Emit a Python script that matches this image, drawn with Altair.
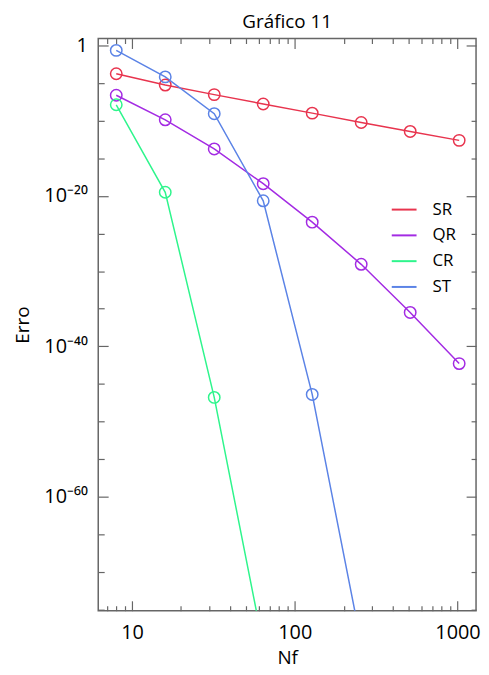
import math
import altair as alt
import pandas as pd

# ---- data ----
nf_sr = [8, 16, 32, 64, 128, 256, 512, 1024]
err_sr = [1.7e-4, 5.4e-6, 2.9e-7, 1.66e-8, 1.0e-9, 5.75e-11, 3.72e-12, 2.4e-13]
nf_qr = [8, 16, 32, 64, 128, 256, 512, 1024]
err_qr = [2.4e-7, 1.29e-10, 1.74e-14, 4.2e-19, 3.2e-24, 7.9e-30, 3.2e-36, 5.0e-43]
nf_cr = [8, 16, 32, 64]
err_cr = [1.3e-8, 3.0e-20, 1.6e-47, 1.6e-80]
nf_st = [8, 16, 32, 64, 128, 256]
err_st = [0.22, 6.6e-5, 8.5e-10, 2.2e-21, 4.0e-47, 3.2e-80]

series = ["SR", "QR", "CR", "ST"]
colors = ["#e8344e", "#a32be3", "#2ef58c", "#5b83e6"]

x_major = [10, 100, 1000]
x_major_labels = ["10", "100", "1000"]
x_minor = [7, 8, 9, 20, 30, 40, 50, 60, 70, 80, 90,
           200, 300, 400, 500, 600, 700, 800, 900]
y_major = [1, 1e-20, 1e-40, 1e-60]
y_major_labels = ["1", "10⁻²⁰", "10⁻⁴⁰", "10⁻⁶⁰"]
y_minor = [1e-5, 1e-10, 1e-15, 1e-25, 1e-30, 1e-35, 1e-45, 1e-50, 1e-55,
           1e-65, 1e-70, 1e-75]

X_DOMAIN = [6.2, 1300]
Y_DOMAIN = [7e-76, 8.3]

rows = []
for name, nfs, errs in [("SR", nf_sr, err_sr), ("QR", nf_qr, err_qr),
                        ("CR", nf_cr, err_cr), ("ST", nf_st, err_st)]:
    for n, e in zip(nfs, errs):
        rows.append({"Nf": n, "Erro": e, "serie": name})
df = pd.DataFrame(rows)

FONT = "Open Sans"
TICK = "#666666"


def label_expr(values, labels):
    parts = []
    for v, lab in zip(values, labels):
        k = round(math.log10(v))
        parts.append(f"round(log(datum.value)/LN10) == {k} ? '{lab}' : ")
    return "".join(parts) + "''"


def xs():
    return alt.Scale(type="log", domain=X_DOMAIN, nice=False)


def ys():
    return alt.Scale(type="log", domain=Y_DOMAIN, nice=False)


def tick_axis(orient, values, size):
    return alt.Axis(orient=orient, values=values, labels=False, title=None,
                    tickSize=size, offset=-size, domain=False, grid=False,
                    tickColor=TICK, tickWidth=1.2)


legend = alt.Legend(orient="none", legendX=295, legendY=159, title=None,
                    symbolType="stroke", symbolSize=625, symbolStrokeWidth=2,
                    labelOffset=15, rowPadding=4, labelFontSize=17,
                    labelFont=FONT, labelColor="black", padding=0)
color = alt.Color("serie:N", scale=alt.Scale(domain=series, range=colors),
                  legend=legend)

x_main = alt.X("Nf:Q", scale=xs(), axis=alt.Axis(
    orient="bottom", values=x_major,
    labelExpr=label_expr(x_major, x_major_labels),
    title="Nf", tickSize=10, offset=-10, domain=False, grid=False,
    labelPadding=12, labelFontSize=20, labelFont=FONT, labelColor="black",
    titleFontSize=19, titleFont=FONT, titleFontWeight="normal",
    titleColor="black", titlePadding=6, tickColor=TICK, tickWidth=1.2,
    labelFlush=False, labelOverlap=False))
y_main = alt.Y("Erro:Q", scale=ys(), axis=alt.Axis(
    orient="left", values=y_major,
    labelExpr=label_expr(y_major, y_major_labels),
    title="Erro", tickSize=10, offset=-10, domain=False, grid=False,
    labelPadding=11, labelFontSize=20, labelFont=FONT, labelColor="black",
    titleFontSize=19, titleFont=FONT, titleFontWeight="normal",
    titleColor="black", titlePadding=12, tickColor=TICK, tickWidth=1.2,
    labelFlush=False, labelOverlap=False))

lines = alt.Chart(df).mark_line(clip=True, strokeWidth=1.5).encode(
    x=x_main, y=y_main, color=color, order="Nf:Q")
points = alt.Chart(df).mark_point(clip=True, filled=False, size=133,
                                  strokeWidth=1.5, opacity=1).encode(
    x=x_main, y=y_main, color=color)
main = alt.layer(lines, points)


def axis_layer(xo, yo, xv, yv, xsz, ysz):
    return alt.Chart(df).mark_point(opacity=0).encode(
        x=alt.X("Nf:Q", scale=xs(), axis=tick_axis(xo, xv, xsz)),
        y=alt.Y("Erro:Q", scale=ys(), axis=tick_axis(yo, yv, ysz)))


ax_top_right = axis_layer("top", "right", x_major, y_major, 10, 10)
ax_minor_bl = axis_layer("bottom", "left", x_minor, y_minor, 5, 6)
ax_minor_tr = axis_layer("top", "right", x_minor, y_minor, 5, 5)

chart = alt.layer(main, ax_top_right, ax_minor_bl, ax_minor_tr).resolve_scale(
    x="independent", y="independent"
).properties(
    width=381, height=577,
    title=alt.TitleParams("Gráfico 11", fontSize=19, font=FONT,
                          fontWeight="normal", anchor="middle", frame="group",
                          offset=4, color="black"),
    autosize=alt.AutoSizeParams(type="none"),
    padding={"left": 91, "top": 28, "right": 5, "bottom": 57},
).configure_view(stroke="#666666", strokeWidth=1.5)

chart.save("out.html", embed_options={"renderer": "svg", "actions": False})
